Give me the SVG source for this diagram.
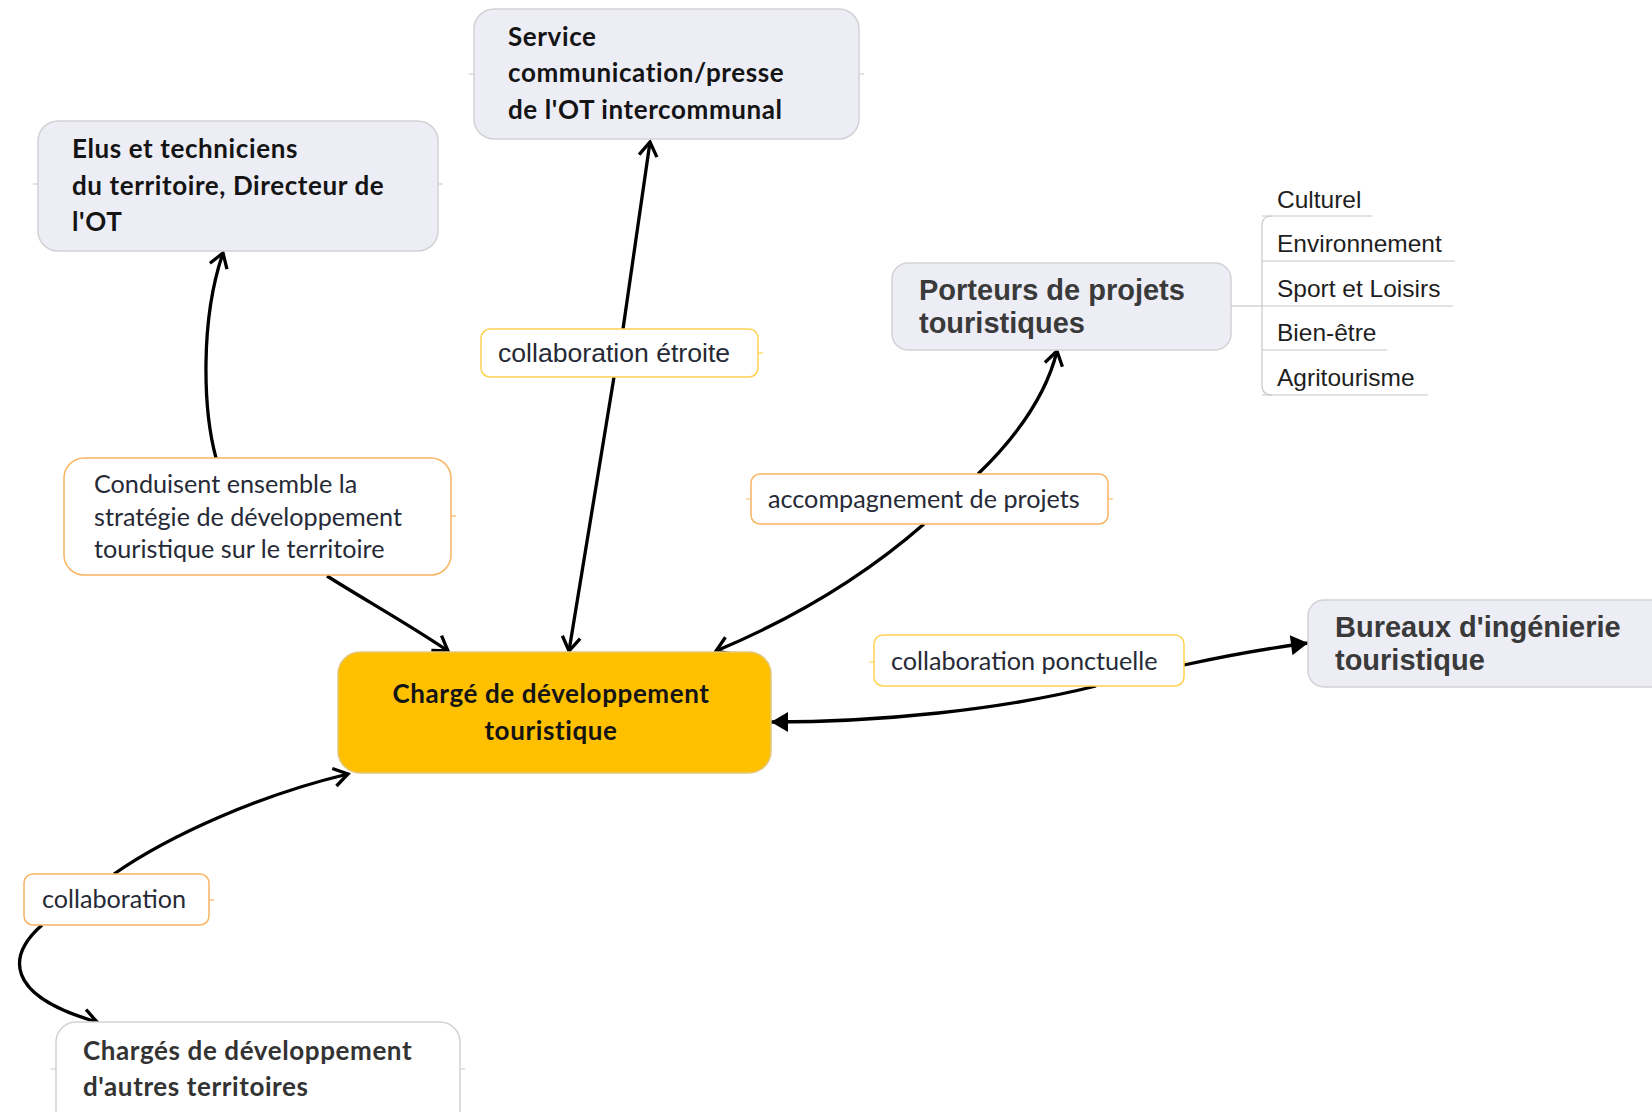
<svg xmlns="http://www.w3.org/2000/svg" width="1652" height="1112" viewBox="0 0 1652 1112">
  <style>
    .node { fill: #ECEDF5; stroke: #D2D2D6; stroke-width: 1.5; }
    .white { fill: #FFFFFF; stroke: #D2D2D6; stroke-width: 1.5; }
    .core { fill: #FFC000; stroke: #E3C77E; stroke-width: 1.5; }
    .lbl-o { fill: #FFFFFF; stroke: #F9B461; stroke-width: 1.5; }
    .lbl-y { fill: #FFFFFF; stroke: #FFD24F; stroke-width: 1.5; }
    .stub { stroke: #C8C8C8; stroke-width: 1.2; fill: none; }
    .stub-o { stroke: #F9B461; stroke-width: 1.2; fill: none; }
    .stub-y { stroke: #FFD24F; stroke-width: 1.2; fill: none; }
    .tb { font-family: Lato, "Open Sans", sans-serif; font-weight: bold; font-size: 26px; letter-spacing: 0.6px; fill: #141414; }
    .tb2 { font-family: Lato, "Open Sans", sans-serif; font-weight: bold; font-size: 26px; letter-spacing: 0.6px; fill: #333333; }
    .ta { font-family: "Liberation Sans", Arial, sans-serif; font-weight: bold; font-size: 29px; fill: #3A3A3A; }
    .ts { font-family: "Liberation Sans", Arial, sans-serif; font-size: 24.5px; fill: #1E1E1E; }
    .tl { font-family: Lato, "Open Sans", sans-serif; font-size: 25.2px; fill: #262A36; }
    .tla { font-family: "Liberation Sans", Arial, sans-serif; font-size: 26.6px; fill: #262A36; }
    .conn { fill: none; stroke: #000000; stroke-width: 3.3; }
    .open { marker-end: url(#open); }
    .solid { marker-end: url(#solid); }
  </style>
  <defs>
    <marker id="open" viewBox="-18 -12 21 24" refX="0" refY="0" markerWidth="21" markerHeight="24" markerUnits="userSpaceOnUse" orient="auto">
      <path d="M-14,-9 L0,0 L-14,9" fill="none" stroke="#000" stroke-width="3.3"/>
    </marker>
    <marker id="solid" viewBox="-19 -12 21 24" refX="0" refY="0" markerWidth="21" markerHeight="24" markerUnits="userSpaceOnUse" orient="auto">
      <path d="M-17,-10 L0,0 L-17,10 Z" fill="#000"/>
    </marker>
  </defs>

  <rect width="1652" height="1112" fill="#FFFFFF"/>

  <!-- connectors -->
  <g id="connectors">
    <path class="conn open" d="M216,458 C203,410 200,320 223,253"/>
    <path class="conn open" d="M327,576 C365,600 410,625 448,651"/>
    <path class="conn open" d="M623,329 L650,142"/>
    <path class="conn open" d="M614,377 L569,651"/>
    <path class="conn open" d="M978,474 C1010,443 1045,400 1057,351"/>
    <path class="conn open" d="M924,524 C860,580 790,620 716,651"/>
    <path class="conn solid" d="M1184,665 C1230,655 1270,648 1308,643"/>
    <path class="conn solid" d="M1096,686 C1000,710 880,722 771,722"/>
    <path class="conn open" d="M114,874 C170,835 260,795 348,774"/>
    <path class="conn open" d="M42,925 C8,955 3,995 97,1022"/>
  </g>

  <!-- nodes -->
  <g id="elus">
    <line class="stub" x1="33" y1="184" x2="443" y2="184"/>
    <rect class="node" x="38" y="121" width="400" height="130" rx="20"/>
    <text class="tb" x="72" y="158">Elus et techniciens</text>
    <text class="tb" x="72" y="195">du territoire, Directeur de</text>
    <text class="tb" x="72" y="231">l'OT</text>
  </g>

  <g id="service">
    <line class="stub" x1="469" y1="74" x2="864" y2="74"/>
    <rect class="node" x="474" y="9" width="385" height="130" rx="20"/>
    <text class="tb" x="508" y="46">Service</text>
    <text class="tb" x="508" y="82">communication/presse</text>
    <text class="tb" x="508" y="119">de l'OT intercommunal</text>
  </g>

  <g id="porteurs">
    <rect class="node" x="892" y="263" width="339" height="87" rx="16"/>
    <text class="ta" x="919" y="300">Porteurs de projets</text>
    <text class="ta" x="919" y="333">touristiques</text>
  </g>

  <g id="themes">
    <line class="stub" x1="1231" y1="306" x2="1262" y2="306"/>
    <path class="stub" d="M1272,216 Q1262,216 1262,226 L1262,385 Q1262,395 1272,395"/>
    <line class="stub" x1="1262" y1="216" x2="1372" y2="216"/>
    <line class="stub" x1="1262" y1="261" x2="1455" y2="261"/>
    <line class="stub" x1="1262" y1="306" x2="1453" y2="306"/>
    <line class="stub" x1="1262" y1="350" x2="1387" y2="350"/>
    <line class="stub" x1="1262" y1="395" x2="1428" y2="395"/>
    <text class="ts" x="1277" y="208">Culturel</text>
    <text class="ts" x="1277" y="252">Environnement</text>
    <text class="ts" x="1277" y="297">Sport et Loisirs</text>
    <text class="ts" x="1277" y="341">Bien-être</text>
    <text class="ts" x="1277" y="386">Agritourisme</text>
  </g>

  <g id="charge">
    <rect class="core" x="338" y="652" width="433" height="121" rx="22"/>
    <text class="tb" x="551" y="703" text-anchor="middle">Chargé de développement</text>
    <text class="tb" x="551" y="740" text-anchor="middle">touristique</text>
  </g>

  <g id="bureaux">
    <rect class="node" x="1308" y="600" width="400" height="87" rx="16"/>
    <text class="ta" x="1335" y="637">Bureaux d'ingénierie</text>
    <text class="ta" x="1335" y="670">touristique</text>
  </g>

  <g id="autres">
    <line class="stub" x1="51" y1="1069" x2="465" y2="1069"/>
    <rect class="white" x="56" y="1022" width="404" height="130" rx="20"/>
    <text class="tb2" x="83" y="1060">Chargés de développement</text>
    <text class="tb2" x="83" y="1096">d'autres territoires</text>
  </g>

  <!-- relation labels -->
  <g id="label-strategie">
    <line class="stub-o" x1="451" y1="516" x2="456" y2="516"/>
    <rect class="lbl-o" x="64" y="458" width="387" height="117" rx="20"/>
    <text class="tl" x="94" y="493">Conduisent ensemble la</text>
    <text class="tl" x="94" y="526">stratégie de développement</text>
    <text class="tl" x="94" y="558">touristique sur le territoire</text>
  </g>

  <g id="label-etroite">
    <line class="stub-y" x1="758" y1="353" x2="763" y2="353"/>
    <rect class="lbl-y" x="481" y="329" width="277" height="48" rx="9"/>
    <text class="tla" x="498" y="362">collaboration étroite</text>
  </g>

  <g id="label-accompagnement">
    <line class="stub-o" x1="746" y1="499" x2="1113" y2="499"/>
    <rect class="lbl-o" x="751" y="474" width="357" height="50" rx="9"/>
    <text class="tl" x="768" y="508">accompagnement de projets</text>
  </g>

  <g id="label-ponctuelle">
    <line class="stub-y" x1="869" y1="662" x2="1188" y2="662"/>
    <rect class="lbl-y" x="874" y="635" width="310" height="51" rx="9"/>
    <text class="tl" x="891" y="670">collaboration ponctuelle</text>
  </g>

  <g id="label-collaboration">
    <line class="stub-o" x1="209" y1="900" x2="214" y2="900"/>
    <rect class="lbl-o" x="24" y="874" width="185" height="51" rx="9"/>
    <text class="tl" x="42" y="908">collaboration</text>
  </g>
</svg>
